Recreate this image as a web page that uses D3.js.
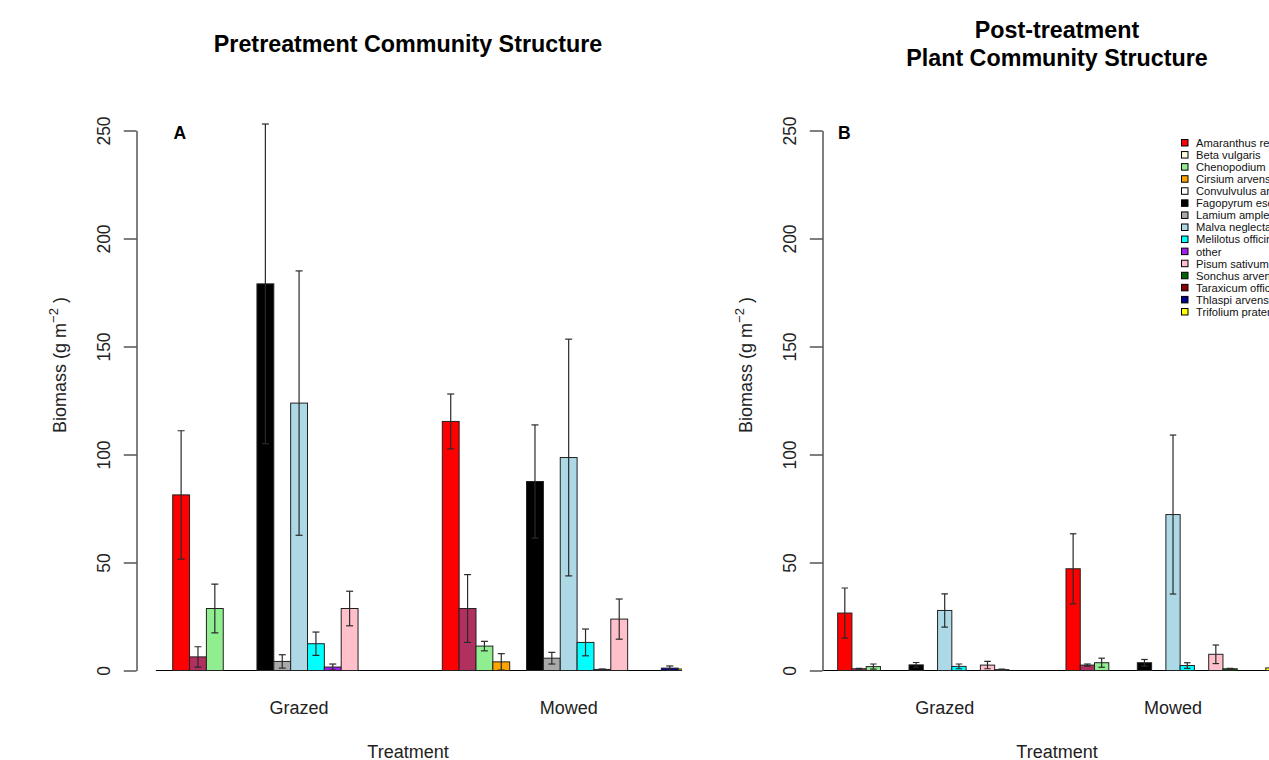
<!DOCTYPE html>
<html>
<head>
<meta charset="utf-8">
<script src="https://cdn.jsdelivr.net/npm/d3@7"></script>
<style>
  html, body { margin: 0; padding: 0; background: #fff; }
  svg { display: block; font-family: "Liberation Sans", Arial, sans-serif; }
</style>
</head>
<body>
<svg id="chart" width="1269" height="760"></svg>
<script>
// Species in plotting order (bars within each treatment group)
const species = [
  "Amaranthus retroflexus", "Beta vulgaris", "Chenopodium album", "Cirsium arvense",
  "Convulvulus arvensis", "Fagopyrum esculentum", "Lamium amplexicaule", "Malva neglecta",
  "Melilotus officinalis", "other", "Pisum sativum", "Sonchus arvensis",
  "Taraxicum officinale", "Thlaspi arvense", "Trifolium pratense"
];
const barColors = [
  "#FF0000", "#B03060", "#90EE90", "#FFA500", "#FFFFFF", "#000000", "#A9A9A9", "#ADD8E6",
  "#00FFFF", "#A020F0", "#FFC0CB", "#006400", "#8B0000", "#00008B", "#FFFF00"
];
const legendColors = [
  "#FF0000", "#FFFFE0", "#90EE90", "#FFA500", "#FFFFFF", "#000000", "#A9A9A9", "#ADD8E6",
  "#00FFFF", "#A020F0", "#FFC0CB", "#006400", "#8B0000", "#00008B", "#FFFF00"
];
const groups = ["Grazed", "Mowed"];
const yTicks = [0, 50, 100, 150, 200, 250];

// Pretreatment biomass (g m^-2): means and standard errors
const preGrazed   = [81.3, 6.3, 28.7, 0, 0, 179.0, 4.2, 123.8, 12.4, 1.6, 28.7, 0, 0, 0, 0];
const preGrazedSE = [29.7, 4.7, 11.3, 0, 0, 74.0, 3.1, 61.2, 5.4, 1.4, 8.0, 0, 0, 0, 0];
const preMowed    = [115.3, 28.7, 11.3, 4.0, 0, 87.5, 5.7, 98.6, 13.0, 0.5, 23.8, 0, 0, 1.1, 0.7];
const preMowedSE  = [12.7, 15.7, 2.2, 3.8, 0, 26.2, 2.7, 54.8, 6.2, 0.2, 9.3, 0, 0, 1.0, 0.3];

// Post-treatment biomass (g m^-2): means and standard errors
const postGrazed   = [26.6, 0.8, 1.8, 0, 0, 2.6, 0, 27.8, 1.9, 0, 2.5, 0.4, 0, 0, 0];
const postGrazedSE = [11.6, 0.2, 1.2, 0, 0, 1.1, 0, 7.7, 1.1, 0, 1.7, 0.3, 0, 0, 0];
const postMowed    = [47.1, 2.5, 3.6, 0, 0, 3.6, 0, 72.2, 2.3, 0, 7.5, 0.8, 0, 0, 1.2];
const postMowedSE  = [16.2, 0.5, 2.1, 0, 0, 1.5, 0, 36.8, 1.3, 0, 4.3, 0.2, 0, 0, 0.3];

const svg = d3.select("#chart");
svg.append("rect").attr("width", 1269).attr("height", 760).attr("fill", "#fff");

const y = d3.scaleLinear().domain([0, 250]).range([670.5, 130.5]);

function drawPanel(cfg) {
  const nUnits = 2 * (species.length + 1);
  const x = d3.scaleLinear().domain([0, nUnits]).range([cfg.x0, cfg.x0 + nUnits * cfg.unit]);
  const g = svg.append("g");

  const clipId = "clip-" + cfg.id;
  svg.append("clipPath").attr("id", clipId)
    .append("rect").attr("x", cfg.axisX).attr("y", 0)
    .attr("width", cfg.clipRight - cfg.axisX).attr("height", 760);

  const plot = g.append("g").attr("clip-path", `url(#${clipId})`);

  // baseline at zero
  plot.append("line")
    .attr("x1", x(0)).attr("x2", x(nUnits))
    .attr("y1", y(0)).attr("y2", y(0))
    .attr("stroke", "#000").attr("stroke-width", 1);

  const rows = [];
  [cfg.means[0], cfg.means[1]].forEach((m, gi) => {
    m.forEach((v, si) => {
      rows.push({ unit: 1 + gi * (species.length + 1) + si, value: v, se: cfg.ses[gi][si], color: barColors[si] });
    });
  });

  plot.selectAll("rect.bar").data(rows.filter(d => d.value > 0)).join("rect")
    .attr("class", "bar")
    .attr("x", d => x(d.unit))
    .attr("width", d => x(d.unit + 1) - x(d.unit))
    .attr("y", d => y(d.value))
    .attr("height", d => y(0) - y(d.value))
    .attr("fill", d => d.color)
    .attr("stroke", "#222").attr("stroke-width", 1);

  const err = plot.selectAll("g.err").data(rows.filter(d => d.se > 0)).join("g").attr("class", "err")
    .attr("stroke", "#2a2a2a").attr("stroke-width", 1.2);
  err.append("line")
    .attr("x1", d => x(d.unit + 0.5)).attr("x2", d => x(d.unit + 0.5))
    .attr("y1", d => y(Math.max(0, d.value - d.se))).attr("y2", d => y(d.value + d.se));
  err.append("line")
    .attr("x1", d => x(d.unit + 0.5) - cfg.cap / 2).attr("x2", d => x(d.unit + 0.5) + cfg.cap / 2)
    .attr("y1", d => y(d.value + d.se)).attr("y2", d => y(d.value + d.se));
  err.append("line")
    .attr("x1", d => x(d.unit + 0.5) - cfg.cap / 2).attr("x2", d => x(d.unit + 0.5) + cfg.cap / 2)
    .attr("y1", d => y(Math.max(0, d.value - d.se))).attr("y2", d => y(Math.max(0, d.value - d.se)));

  // y axis with rotated tick labels
  const axis = g.append("g").attr("transform", `translate(${cfg.axisX},0)`)
    .call(d3.axisLeft(y).tickValues(yTicks).tickSize(12.7).tickSizeOuter(0).tickFormat(d3.format("d")));
  axis.select(".domain").attr("stroke", "#000");
  axis.selectAll(".tick line").attr("stroke", "#000");
  axis.selectAll(".tick text")
    .attr("x", null).attr("dy", null)
    .attr("transform", "translate(-33,0) rotate(-90)")
    .attr("text-anchor", "middle")
    .attr("dy", "0.36em")
    .attr("fill", "#222")
    .style("font-size", "17.5px")
    .style("font-family", "\"Liberation Sans\", Arial, sans-serif");

  // group labels
  g.selectAll("text.grp").data(groups).join("text").attr("class", "grp")
    .attr("x", (d, i) => x(1 + i * (species.length + 1) + species.length / 2))
    .attr("y", 714)
    .attr("text-anchor", "middle")
    .attr("fill", "#222")
    .style("font-size", "18px")
    .text(d => d);

  // x axis title
  g.append("text")
    .attr("x", cfg.titleX).attr("y", 758)
    .attr("text-anchor", "middle").attr("fill", "#222")
    .style("font-size", "18px")
    .text("Treatment");

  // y axis title
  const yl = g.append("text")
    .attr("transform", `translate(${cfg.axisX - 71},365) rotate(-90)`)
    .attr("text-anchor", "middle").attr("fill", "#222")
    .style("font-size", "18px");
  yl.append("tspan").text("Biomass (g m");
  yl.append("tspan").attr("dy", -8).style("font-size", "13px").text("\u22122");
  yl.append("tspan").attr("dy", 8).text(" )");

  // panel letter
  g.append("text")
    .attr("x", cfg.letterX).attr("y", 139)
    .attr("font-weight", "bold").attr("fill", "#000")
    .style("font-size", "17.5px")
    .text(cfg.letter);

  // main title
  cfg.title.forEach((t, i) => {
    g.append("text")
      .attr("x", cfg.titleX).attr("y", cfg.titleY + i * 28)
      .attr("text-anchor", "middle").attr("font-weight", "bold").attr("fill", "#000")
      .style("font-size", "23.3px")
      .text(t);
  });
}

drawPanel({
  id: "a", x0: 155.85, unit: 16.85, axisX: 136.5, clipRight: 682,
  cap: 7, letter: "A", letterX: 173.5,
  titleX: 408, titleY: 52, title: ["Pretreatment Community Structure"],
  means: [preGrazed, preMowed], ses: [preGrazedSE, preMowedSE]
});

drawPanel({
  id: "b", x0: 823.4, unit: 14.27, axisX: 822.5, clipRight: 1400,
  cap: 6.5, letter: "B", letterX: 838,
  titleX: 1057, titleY: 38, title: ["Post-treatment", "Plant Community Structure"],
  means: [postGrazed, postMowed], ses: [postGrazedSE, postMowedSE]
});

// species legend for panel B
const legend = svg.append("g").attr("transform", "translate(1181,143)");
const item = legend.selectAll("g").data(species).join("g")
  .attr("transform", (d, i) => `translate(0,${i * 12.07})`);
item.append("rect")
  .attr("x", 0.5).attr("y", -3.5).attr("width", 6.5).attr("height", 6.5)
  .attr("fill", (d, i) => legendColors[i])
  .attr("stroke", "#000").attr("stroke-width", 1);
item.append("text")
  .attr("x", 15).attr("y", 0).attr("dy", "0.35em")
  .attr("fill", "#111")
  .style("font-size", "11.2px")
  .text(d => d);
</script>
</body>
</html>
